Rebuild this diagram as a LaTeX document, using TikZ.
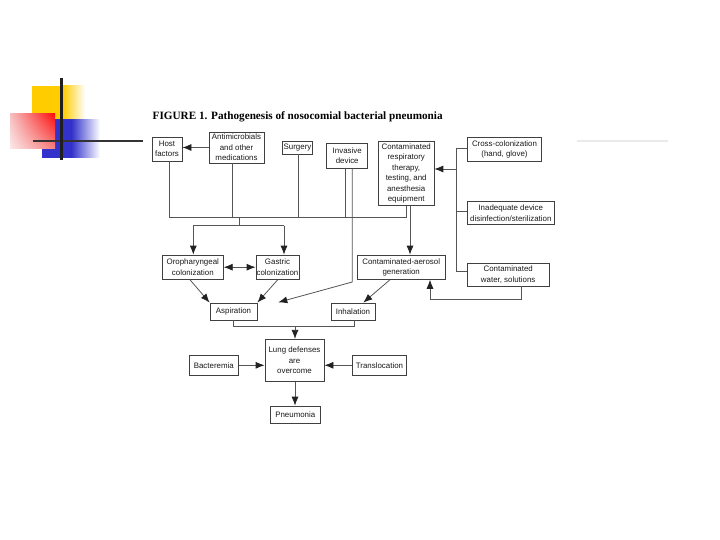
\documentclass[tikz,border=0pt]{standalone}
\usepackage{fontspec}
\setmainfont{Liberation Sans}
\newfontfamily\titlefont{Liberation Serif}
\usetikzlibrary{arrows.meta,calc,shadings}
\definecolor{lin}{HTML}{555555}
\definecolor{boxc}{HTML}{404040}
\definecolor{txt}{HTML}{1A1A1A}
\definecolor{tipc}{HTML}{222222}
\definecolor{decoY}{HTML}{FFCC00}
\definecolor{decoB}{HTML}{3333CC}
\definecolor{decoRur}{HTML}{FF0A0A}
\definecolor{decoRlr}{HTML}{F58080}
\definecolor{decoRul}{HTML}{F5C0C0}
\definecolor{decoRll}{HTML}{FCE8E8}
\definecolor{faint}{HTML}{EAEAEA}
\begin{document}
\begin{tikzpicture}[x=1pt,y=-1pt,
  box/.style={draw=boxc, line width=0.8pt, fill=white, inner sep=0pt, align=center, text=txt, font=\fontsize{7.9}{10.4}\selectfont},
  con/.style={draw=lin, line width=0.8pt},
  tip/.tip={Latex[length=9pt,width=7pt,color=tipc]},
  arr/.style={con, -tip},
  darr/.style={con, tip-tip}]
\useasboundingbox (0,0) rectangle (720,540);
\fill[white] (0,0) rectangle (720,540);
% decoration
\fill[decoY] (31.7,86) rectangle (63,119.3);
\shade[left color=decoY, right color=white] (62.9,86) rectangle (85,119.3);
\fill[decoB] (41.7,119.3) rectangle (71.7,157.7);
\shade[left color=decoB, right color=white] (71.6,119.3) rectangle (100,157.7);
\shade[upper right=decoRur, lower right=decoRlr, upper left=decoRul, lower left=decoRll] (10,113.3) rectangle (55,148.3);
\draw[line width=2.3pt, color=black!80] (33.3,141) -- (143.3,141);
\draw[line width=2.6pt, color=black!88] (61.7,78.3) -- (61.7,160);
\draw[line width=2pt, color=faint] (577,141) -- (668,141);
% title
\node[anchor=base west, inner sep=0pt, font=\titlefont\bfseries\fontsize{11.2}{13}\selectfont] (title) at (152.5,120) {FIGURE 1. Pathogenesis of nosocomial bacterial pneumonia};
% boxes
\node[box, minimum width=30pt, minimum height=24pt] (host) at (167,149) {Host\\factors};
\node[box, minimum width=55pt, minimum height=31pt] (anti) at (236.5,147.5) {Antimicrobials\\and other\\medications};
\node[box, minimum width=29.6pt, minimum height=13pt] (surg) at (297.5,147.5) {Surgery};
\node[box, minimum width=41pt, minimum height=25pt] (inv) at (347.2,155.5) {Invasive\\device};
\node[box, minimum width=55.5pt, minimum height=64pt] (resp) at (406.2,173.5) {Contaminated\\respiratory\\therapy,\\testing, and\\anesthesia\\equipment};
\node[box, minimum width=74.4pt, minimum height=24.4pt] (cross) at (504.5,149.5) {Cross-colonization\\(hand, glove)};
\node[box, minimum width=87pt, minimum height=22.6pt] (inad) at (510.8,213) {Inadequate device\\disinfection/sterilization};
\node[box, minimum width=81.7pt, minimum height=22.7pt] (wat) at (508.2,274.7) {Contaminated\\water, solutions};
\node[box, minimum width=61pt, minimum height=24.3pt] (oro) at (192.8,267.2) {Oropharyngeal\\colonization};
\node[box, minimum width=43pt, minimum height=24.3pt] (gas) at (277.5,267.2) {Gastric\\colonization};
\node[box, minimum width=87.7pt, minimum height=24.3pt] (aer) at (401.2,267.2) {Contaminated-aerosol\\generation};
\node[box, minimum width=47pt, minimum height=17pt] (asp) at (233.5,311.5) {Aspiration};
\node[box, minimum width=44pt, minimum height=17pt] (inh) at (353,311.5) {Inhalation};
\node[box, minimum width=59pt, minimum height=42.4pt] (lung) at (294.5,360.5) {Lung defenses\\are\\overcome};
\node[box, minimum width=49pt, minimum height=19.3pt] (bact) at (213.8,365.3) {Bacteremia};
\node[box, minimum width=54.4pt, minimum height=19.3pt] (trans) at (379.5,365.3) {Translocation};
\node[box, minimum width=49.3pt, minimum height=17.3pt] (pneu) at (295.3,414.7) {Pneumonia};
% helper coordinates
\coordinate (busL) at (169.3,217);
\coordinate (busR) at (406.7,217);
\coordinate (bA) at (232.3,217);
\coordinate (bS) at (298.3,217);
\coordinate (bI) at (345.7,217);
\coordinate (iBend) at (352.3,282);
\coordinate (iTip) at (278.3,302.3);
\coordinate (rA) at (410,0);
\coordinate (drop) at (239,217);
\coordinate (split) at (239,225.7);
\coordinate (oA) at (193.3,225.7);
\coordinate (gA) at (284,225.7);
\coordinate (oX) at (190,0);
\coordinate (gX) at (277.7,0);
\coordinate (aX) at (390,0);
\coordinate (iX) at (363.3,0);
\coordinate (wB) at (521.7,299);
\coordinate (wL) at (430,299);
\coordinate (brT) at (456.7,148.3);
\coordinate (brM) at (456.7,211.7);
\coordinate (brA) at (456.7,169);
\coordinate (brB) at (456.7,271.7);
\coordinate (aB) at (233.3,326.7);
\coordinate (hB) at (354,326.7);
\coordinate (mB) at (295,326.7);
% connectors
\draw[arr] (anti.west) -- (anti.west -| host.east);
\draw[con] (host.south -| busL) -- (busL) -- (busR) -- (resp.south -| busR);
\draw[con] (anti.south -| bA) -- (bA);
\draw[con] (surg.south -| bS) -- (bS);
\draw[con] (inv.south -| bI) -- (bI);
\draw[arr] (inv.south -| iBend) -- (iBend) -- (iTip);
\draw[arr] (resp.south -| rA) -- (aer.north -| rA);
\draw[con] (drop) -- (split);
\draw[con] (oA) -- (gA);
\draw[arr] (oA) -- (oro.north -| oA);
\draw[arr] (gA) -- (gas.north -| gA);
\draw[darr] (oro.east) -- (gas.west);
\draw[arr] (oro.south -| oX) -- (asp.north west);
\draw[arr] (gas.south -| gX) -- (asp.north east);
\draw[arr] (aer.south -| aX) -- (inh.north -| iX);
\draw[arr] (wat.south -| wB) -- (wB) -- (wL) -- (aer.south -| wL);
\draw[con] (cross.west |- brT) -- (brT) -- (brB) -- (wat.west |- brB);
\draw[con] (brM) -- (inad.west |- brM);
\draw[arr] (brA) -- (resp.east |- brA);
\draw[con] (asp.south -| aB) -- (aB) -- (hB) -- (inh.south -| hB);
\draw[arr] (mB) -- (lung.north -| mB);
\draw[arr] (bact.east) -- (lung.west |- bact.east);
\draw[arr] (trans.west) -- (lung.east |- trans.west);
\draw[arr] (lung.south -| mB) -- (pneu.north -| mB);
\end{tikzpicture}
\end{document}
